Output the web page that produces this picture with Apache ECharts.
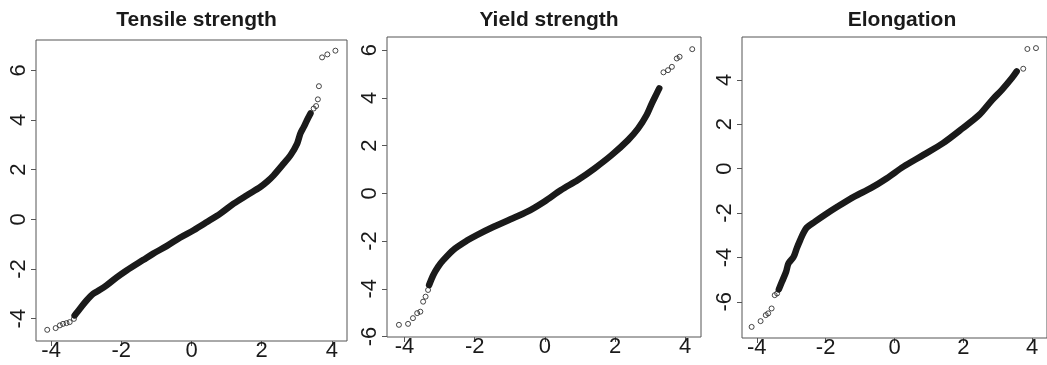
<!DOCTYPE html>
<html>
<head>
<meta charset="utf-8">
<script src="https://cdn.jsdelivr.net/npm/echarts@6/dist/echarts.min.js"></script>
<style>
html,body{margin:0;padding:0;background:#fff;}
#chart{width:1047px;height:365px;}
</style>
</head>
<body>
<div id="chart"></div>
<script>
// ---- Data (theoretical quantile, sample quantile) ----
const titles = ["Tensile strength", "Yield strength", "Elongation"];
const xTicks = [-4, -2, 0, 2, 4];
const tensileYTicks = [-4, -2, 0, 2, 4, 6];
const yieldYTicks = [-6, -4, -2, 0, 2, 4, 6];
const elongYTicks = [-6, -4, -2, 0, 2, 4];

// dense part of each Q-Q plot (drawn as a thick band)
const tensileCurve = [
  [-3.33,-3.87],[-3.18,-3.60],[-2.99,-3.27],[-2.80,-3.00],[-2.61,-2.84],[-2.42,-2.66],
  [-2.14,-2.35],[-1.85,-2.06],[-1.37,-1.63],[-1.09,-1.38],[-0.71,-1.08],[-0.33,-0.74],
  [0.06,-0.44],[0.44,-0.11],[0.82,0.23],[1.20,0.63],[1.58,0.97],[1.96,1.30],
  [2.15,1.51],[2.34,1.77],[2.63,2.25],[2.82,2.58],[3.01,3.05],[3.10,3.45],
  [3.20,3.72],[3.29,3.99],[3.39,4.26]
];
// sparse tail points (drawn as open circles)
const tensileTails = [
  [-4.11,-4.45],[-3.87,-4.38],[-3.75,-4.27],[-3.66,-4.21],[-3.56,-4.18],[-3.47,-4.14],[-3.35,-4.01],
  [3.48,4.46],[3.55,4.56],[3.60,4.83],[3.63,5.36],[3.72,6.52],[3.87,6.64],[4.10,6.79]
];

const yieldCurve = [
  [-3.30,-3.84],[-3.18,-3.42],[-3.04,-3.07],[-2.89,-2.79],[-2.61,-2.37],[-2.22,-1.98],
  [-1.94,-1.75],[-1.46,-1.40],[-0.98,-1.09],[-0.50,-0.77],[-0.02,-0.35],[0.46,0.14],
  [0.94,0.56],[1.42,1.05],[1.90,1.60],[2.37,2.23],[2.66,2.72],[2.90,3.28],
  [3.05,3.77],[3.19,4.19],[3.26,4.40]
];
const yieldTails = [
  [-4.16,-5.51],[-3.90,-5.47],[-3.76,-5.23],[-3.64,-5.02],[-3.55,-4.96],[-3.47,-4.54],[-3.40,-4.33],[-3.33,-4.05],
  [3.38,5.07],[3.51,5.16],[3.62,5.30],[3.76,5.65],[3.84,5.72],[4.20,6.04]
];

const elongCurve = [
  [-3.36,-5.44],[-3.27,-5.10],[-3.15,-4.65],[-3.08,-4.27],[-2.93,-3.97],[-2.84,-3.59],
  [-2.74,-3.22],[-2.65,-2.91],[-2.55,-2.66],[-2.31,-2.39],[-2.03,-2.09],[-1.65,-1.71],
  [-1.17,-1.26],[-0.69,-0.88],[-0.22,-0.43],[0.26,0.09],[0.84,0.62],[1.41,1.15],
  [1.98,1.82],[2.46,2.42],[2.84,3.10],[3.12,3.55],[3.41,4.08],[3.55,4.38]
];
const elongTails = [
  [-4.15,-7.13],[-3.89,-6.87],[-3.74,-6.60],[-3.67,-6.52],[-3.57,-6.30],[-3.48,-5.70],[-3.41,-5.62],
  [3.74,4.50],[3.86,5.39],[4.11,5.43]
];

// ---- Layout ----
const panels = [
  {title: titles[0], curve: tensileCurve, tails: tensileTails, yTicks: tensileYTicks,
   left: 36, top: 40, width: 311, height: 301, xMin: -4.43, xMax: 4.43, yMin: -4.90, yMax: 7.22},
  {title: titles[1], curve: yieldCurve, tails: yieldTails, yTicks: yieldYTicks,
   left: 387, top: 37, width: 314, height: 300, xMin: -4.50, xMax: 4.45, yMin: -6.02, yMax: 6.55},
  {title: titles[2], curve: elongCurve, tails: elongTails, yTicks: elongYTicks,
   left: 742, top: 37, width: 310, height: 301, xMin: -4.43, xMax: 4.43, yMin: -7.63, yMax: 5.93}
];

const ink = '#1a1a1a';
const boxColor = '#555555';
const font = 'Liberation Sans, Arial, sans-serif';

const option = {
  animation: false,
  backgroundColor: '#ffffff',
  title: [], grid: [], xAxis: [], yAxis: [], series: []
};

panels.forEach((p, i) => {
  option.title.push({
    text: p.title,
    left: p.left + p.width / 2,
    top: 5,
    textAlign: 'center',
    textStyle: {fontFamily: font, fontWeight: 'bold', fontSize: 21, color: ink}
  });
  option.grid.push({
    left: p.left, top: p.top, width: p.width, height: p.height,
    show: true, borderColor: boxColor, borderWidth: 1, backgroundColor: 'transparent'
  });
  option.xAxis.push({
    type: 'value', gridIndex: i, min: p.xMin, max: p.xMax, position: 'bottom',
    axisLine: {show: false, onZero: false},
    splitLine: {show: false},
    axisTick: {show: true, inside: false, length: 5, customValues: xTicks,
               lineStyle: {color: boxColor, width: 1}},
    axisLabel: {show: true, customValues: xTicks, margin: -1, fontFamily: font,
                fontSize: 22, color: ink, formatter: v => String(v)}
  });
  option.yAxis.push({
    type: 'value', gridIndex: i, min: p.yMin, max: p.yMax, position: 'left',
    axisLine: {show: false, onZero: false},
    splitLine: {show: false},
    axisTick: {show: true, inside: false, length: 5, customValues: p.yTicks,
               lineStyle: {color: boxColor, width: 1}},
    axisLabel: {show: true, customValues: p.yTicks, rotate: 90, margin: 6, fontFamily: font,
                fontSize: 22, color: ink, formatter: v => String(v)}
  });
  option.series.push({
    type: 'line', xAxisIndex: i, yAxisIndex: i, data: p.curve,
    showSymbol: false, smooth: 0.3, clip: true,
    lineStyle: {color: ink, width: 6.5, cap: 'round', join: 'round'},
    silent: true
  });
  option.series.push({
    type: 'scatter', xAxisIndex: i, yAxisIndex: i, data: p.tails,
    symbol: 'circle', symbolSize: 5,
    itemStyle: {color: 'rgba(255,255,255,0)', borderColor: ink, borderWidth: 1},
    silent: true
  });
});

const chart = echarts.init(document.getElementById('chart'), null, {renderer: 'canvas'});
chart.setOption(option);
</script>
</body>
</html>
